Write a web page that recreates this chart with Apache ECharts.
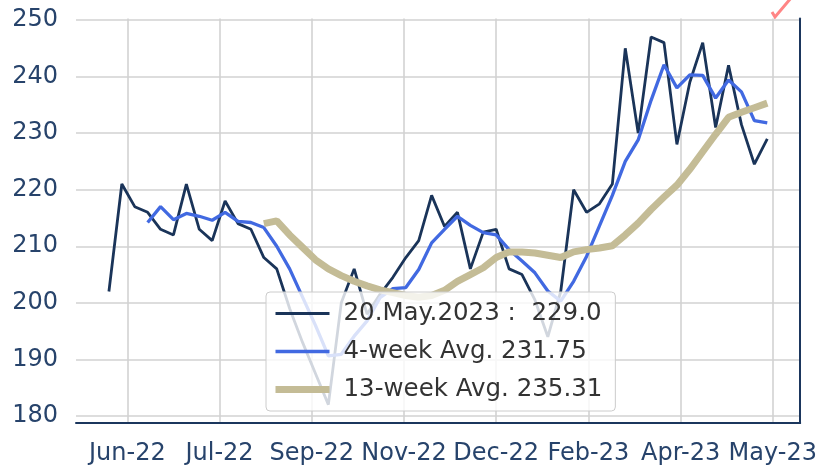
<!DOCTYPE html>
<html>
<head>
<meta charset="utf-8">
<script src="https://cdn.jsdelivr.net/npm/echarts@6/dist/echarts.min.js"></script>
<style>
html, body { margin: 0; padding: 0; background: #fff; }
#chart { width: 820px; height: 467px; }
</style>
</head>
<body>
<div id="chart"></div>
<script>
// weekly values, one per week (x = week index * 7 days)
const weekly = [202, 221, 217, 216, 213, 212, 221, 213, 211, 218,
    214, 213, 208, 206, 199, 193, 187.5, 182, 200, 206,
    198, 201.5, 204.5, 208, 211, 219, 213.5, 216, 206, 212.5,
    213, 206, 205, 200.5, 194, 202, 220, 216, 217.5, 221,
    245, 230, 247, 246, 228, 239, 246, 231, 242, 231.5,
    224.5, 229];

// 4-week average, starts at week 3
const avg4Start = 3;
const avg4 = [214.2, 217, 214.7, 215.8, 215.3, 214.6, 216, 214.4, 214.2, 213.3,
    210, 206, 201, 196, 190.6, 190.9, 194.1, 196.8, 200.9, 202.5,
    202.7, 205.9, 210.6, 213, 215.3, 213.7, 212.4, 212, 209.4, 207.4,
    205.3, 202.1, 200.3, 203.8, 208.2, 213.6, 219, 225, 228.8, 235.8,
    242.1, 238, 240.3, 240.2, 236.2, 239.4, 237.3, 232.2, 231.8];

// 13-week average, starts at week 12
const avg13Start = 12;
const avg13 = [214, 214.5, 212, 209.8, 207.6, 206, 204.8, 203.8, 203, 202.3,
    201.8, 201.3, 201, 201.3, 202.2, 203.8, 205, 206.2, 208, 209,
    209, 208.8, 208.4, 208, 209, 209.4, 209.7, 210.1, 212, 214.1,
    216.5, 218.7, 220.8, 223.6, 226.7, 229.8, 232.8, 233.7, 234.5, 235.3];

const seriesNames = ['20.May.2023 :  229.0', '4-week Avg. 231.75', '13-week Avg. 235.31'];
const seriesColors = ['#1a3459', '#4169e1', '#c4bc96'];
const seriesWidths = [2.8, 3.3, 7];

// x ticks in days from the first week
const tickDays = [10, 60, 110, 160, 210, 260, 310, 360];
const tickLabels = ['Jun-22', 'Jul-22', 'Sep-22', 'Nov-22', 'Dec-22', 'Feb-23', 'Apr-23', 'May-23'];
const yTicks = [180, 190, 200, 210, 220, 230, 240, 250];

const NAVY = '#1b365d';
const GRID = '#d2d2d2';
const LABEL = '#27436b';
const FONT = 'DejaVu Sans';

const toPairs = (vals, start) => vals.map((v, i) => [(start + i) * 7, v]);
const lineSeries = (k, data) => ({
    name: seriesNames[k],
    type: 'line',
    symbol: 'none',
    data: data,
    color: seriesColors[k],
    lineStyle: { color: seriesColors[k], width: seriesWidths[k] }
});

const chart = echarts.init(document.getElementById('chart'));
chart.setOption({
    animation: false,
    backgroundColor: '#fff',
    grid: { left: 76, right: 17, top: 18.6, bottom: 44 },
    xAxis: {
        type: 'value',
        min: -17.85,
        max: 374.85,
        axisLine: { show: true, lineStyle: { color: NAVY, width: 2 } },
        axisTick: { show: false, customValues: tickDays },
        axisLabel: {
            customValues: tickDays,
            formatter: v => tickLabels[tickDays.indexOf(v)] || '',
            color: LABEL, fontSize: 24, fontFamily: FONT, margin: 19
        },
        splitLine: { show: true, lineStyle: { color: GRID, width: 1.6 } }
    },
    yAxis: [{
        type: 'value',
        min: 178.75,
        max: 250.25,
        axisLine: { show: false },
        axisTick: { show: false, customValues: yTicks },
        axisLabel: {
            customValues: yTicks,
            color: LABEL, fontSize: 24, fontFamily: FONT, margin: 18
        },
        splitLine: { show: true, lineStyle: { color: GRID, width: 1.6 } }
    }, {
        type: 'value',
        position: 'right',
        min: 178.75,
        max: 250.25,
        axisLine: { show: true, lineStyle: { color: NAVY, width: 2 } },
        axisTick: { show: false },
        axisLabel: { show: false },
        splitLine: { show: false }
    }],
    legend: {
        orient: 'vertical',
        left: 266,
        top: 292,
        itemWidth: 54,
        itemHeight: 14,
        itemGap: 13,
        padding: [9, 13, 9, 6],
        backgroundColor: 'rgba(255,255,255,0.8)',
        borderColor: '#cccccc',
        borderWidth: 1,
        borderRadius: 4,
        textStyle: { color: '#333', fontSize: 24.5, fontFamily: FONT, padding: [0, 0, 0, 9] },
        data: seriesNames.map((n, k) => ({
            name: n,
            itemStyle: { opacity: 0 },
            lineStyle: { color: seriesColors[k], width: seriesWidths[k], opacity: 1 }
        }))
    },
    graphic: [{
        type: 'polyline',
        shape: { points: [[772, 12], [775, 17], [791, -2]] },
        style: { stroke: '#ff8585', lineWidth: 3, fill: null }
    }],
    series: [
        lineSeries(0, toPairs(weekly, 0)),
        lineSeries(1, toPairs(avg4, avg4Start)),
        lineSeries(2, toPairs(avg13, avg13Start))
    ]
});
</script>
</body>
</html>
